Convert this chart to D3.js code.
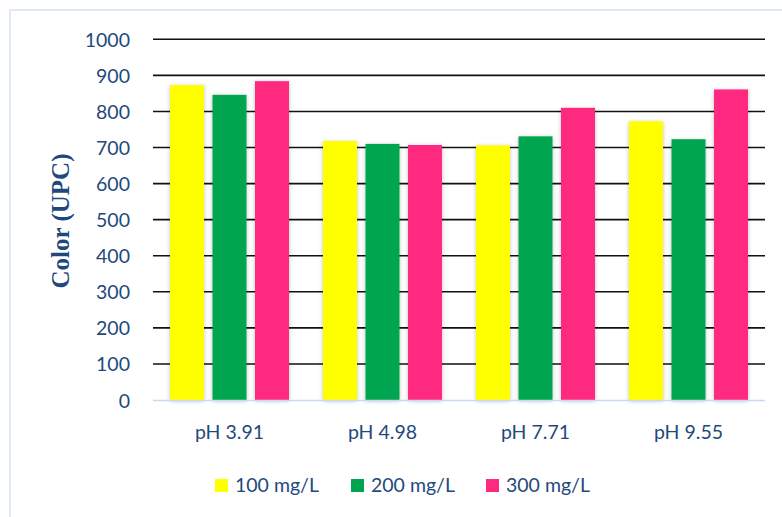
<!DOCTYPE html>
<html>
<head>
<meta charset="utf-8">
<script src="https://cdn.jsdelivr.net/npm/d3@7"></script>
<style>
  html, body { margin: 0; padding: 0; background: #fff; }
  svg { display: block; }
</style>
</head>
<body>
<svg id="chart" width="782" height="517"></svg>
<script>
const categories = ["pH 3.91", "pH 4.98", "pH 7.71", "pH 9.55"];
const seriesNames = ["100 mg/L", "200 mg/L", "300 mg/L"];
const series100 = [873, 718, 706, 773];
const series200 = [846, 710, 731, 723];
const series300 = [884, 707, 810, 861];
const yTicks = [0, 100, 200, 300, 400, 500, 600, 700, 800, 900, 1000];
const colors = ["#ffff00", "#00a64f", "#ff2a80"];

(function () {
const allSeries = [series100, series200, series300];
const svg = d3.select("#chart");
const textColor = "#1f497d";
const tickFont = "Lato, 'Open Sans', sans-serif";

const defs = svg.append("defs");
const f = defs.append("filter").attr("id", "shadow")
  .attr("x", "-30%").attr("y", "-10%").attr("width", "160%").attr("height", "130%");
f.append("feDropShadow").attr("dx", 0).attr("dy", 1).attr("stdDeviation", 2)
  .attr("flood-color", "#000").attr("flood-opacity", 0.25);

// outer border
svg.append("rect").attr("x", 10).attr("y", 10).attr("width", 800).attr("height", 540)
  .attr("fill", "none").attr("stroke", "#d6e3f3").attr("stroke-width", 1.5);

const pLeft = 153, pRight = 765, pTop = 39.3, pBottom = 400;
const x0 = d3.scaleBand().domain(categories).range([pLeft, pRight]).paddingInner(0).paddingOuter(0);
const y = d3.scaleLinear().domain([0, 1000]).range([pBottom, pTop]);

// gridlines
svg.append("g").selectAll("line").data(yTicks.filter(d => d > 0)).join("line")
  .attr("x1", pLeft).attr("x2", pRight)
  .attr("y1", d => y(d)).attr("y2", d => y(d))
  .attr("stroke", "#111").attr("stroke-width", 1.6);

// y tick labels
const yAxis = d3.axisLeft(y).tickValues(yTicks).tickFormat(d3.format("d")).tickSize(0).tickPadding(0);
const gy = svg.append("g").attr("transform", `translate(${pLeft - 23},0)`).call(yAxis);
gy.select(".domain").remove();
gy.selectAll("text").attr("font-family", tickFont).attr("font-size", 19.5)
  .attr("fill", textColor).attr("dy", "0.36em");

// bars
const barW = 34, gap = 8.5;
const groups = svg.append("g").selectAll("g").data(categories).join("g")
  .attr("transform", d => `translate(${x0(d) + x0.bandwidth() / 2},0)`);
groups.each(function(cat, i) {
  const g = d3.select(this);
  allSeries.forEach((s, k) => {
    const cx = (k - 1) * (barW + gap);
    g.append("rect")
      .attr("x", cx - barW / 2).attr("width", barW)
      .attr("y", y(s[i])).attr("height", y(0) - y(s[i]))
      .attr("fill", colors[k]).attr("filter", "url(#shadow)");
  });
});

// x axis baseline
svg.append("line").attr("x1", pLeft).attr("x2", pRight).attr("y1", pBottom + 0.5).attr("y2", pBottom + 0.5)
  .attr("stroke", "#c9d9ee").attr("stroke-width", 1.5);

// x labels
const xAxis = d3.axisBottom(x0).tickSize(0).tickPadding(0);
const gx = svg.append("g").attr("transform", `translate(0,439)`).call(xAxis);
gx.select(".domain").remove();
gx.selectAll("text").attr("font-family", tickFont).attr("font-size", 19.5)
  .attr("fill", textColor).attr("y", 0).attr("dy", 0);

// y axis title
svg.append("text").attr("transform", "translate(69,221) rotate(-90)")
  .attr("text-anchor", "middle").attr("font-family", "'Liberation Serif', serif")
  .attr("font-weight", "bold").attr("font-size", 25).attr("fill", textColor)
  .text("Color (UPC)");

// legend
const legendX = [215, 351, 486];
const lg = svg.append("g").selectAll("g").data(seriesNames).join("g")
  .attr("transform", (d, i) => `translate(${legendX[i]},479)`);
lg.append("rect").attr("width", 13).attr("height", 13).attr("fill", (d, i) => colors[i]);
lg.append("text").attr("x", 20).attr("y", 13)
  .attr("font-family", tickFont).attr("font-size", 19.5).attr("fill", textColor)
  .text(d => d);
})();
</script>
</body>
</html>
